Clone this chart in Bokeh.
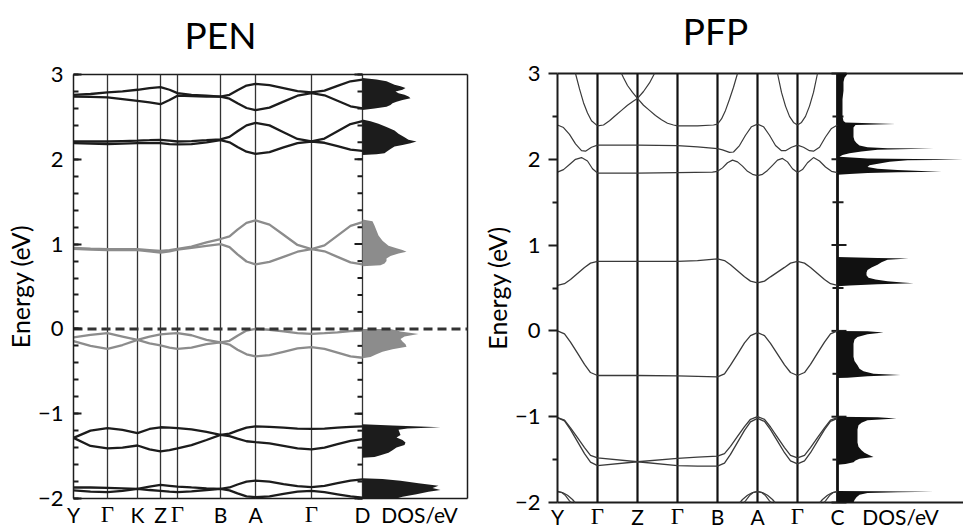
from bokeh.plotting import figure
from bokeh.models import Range1d, FixedTicker, LinearAxis, Label
from bokeh.layouts import row
from bokeh.embed import file_html
from bokeh.resources import INLINE

NaN = float("nan")

# ---------------- PEN : band structure along the k-path ----------------
pen_kpath = [0, 34, 64, 87, 104, 147, 182, 238, 289]
pen_klabels = ["Y", "Γ", "K", "Z", "Γ", "B", "A", "Γ", "D"]
pen_k = [0, 17, 34, 49, 64, 76, 87, 96, 104, 118, 133, 147, 156, 164, 173,
         182, 196, 210, 224, 238, 251, 264, 277, 289]

# conduction bands (black)
pen_t1 = [2.76, 2.77, 2.79, 2.80, 2.82, 2.84, 2.85, 2.82, 2.78, 2.76, 2.75, 2.74, 2.76, 2.815,
          2.87, 2.89, 2.875, 2.84, 2.805, 2.79, 2.81, 2.865, 2.92, 2.94]
pen_t2 = [2.74, 2.735, 2.73, 2.71, 2.69, 2.67, 2.65, 2.70, 2.75, 2.745, 2.74, 2.74, 2.715, 2.66,
          2.605, 2.58, 2.61, 2.68, 2.75, 2.78, 2.755, 2.69, 2.625, 2.60]
pen_s1 = [2.21, 2.21, 2.21, 2.215, 2.22, 2.225, 2.23, 2.22, 2.21, 2.215, 2.225, 2.235, 2.265, 2.33,
          2.40, 2.43, 2.40, 2.32, 2.24, 2.21, 2.245, 2.33, 2.415, 2.45]
pen_s2 = [2.19, 2.185, 2.18, 2.185, 2.19, 2.19, 2.19, 2.18, 2.175, 2.18, 2.20, 2.225, 2.20, 2.145,
          2.09, 2.065, 2.085, 2.14, 2.19, 2.21, 2.195, 2.155, 2.115, 2.10]
# LUMO bands (grey)
pen_g1 = [0.955, 0.945, 0.94, 0.94, 0.94, 0.93, 0.92, 0.93, 0.945, 0.97, 1.02, 1.06, 1.09, 1.17,
          1.25, 1.28, 1.23, 1.11, 0.99, 0.94, 0.985, 1.10, 1.215, 1.26]
pen_g2 = [0.945, 0.935, 0.93, 0.93, 0.93, 0.915, 0.90, 0.915, 0.935, 0.955, 0.98, 1.00, 0.965, 0.88,
          0.795, 0.76, 0.79, 0.85, 0.91, 0.94, 0.915, 0.85, 0.785, 0.76]
# HOMO bands (grey)
pen_v1 = [-0.10, -0.07, -0.05, -0.09, -0.13, -0.09, -0.065, -0.055, -0.05, -0.075, -0.13, -0.16,
          -0.14, -0.08, -0.02, 0.0, -0.01, -0.03, -0.05, -0.058, -0.05, -0.04, -0.025, -0.02]
pen_v2 = [-0.145, -0.20, -0.235, -0.19, -0.13, -0.17, -0.195, -0.22, -0.235, -0.22, -0.18, -0.16,
          -0.185, -0.245, -0.30, -0.325, -0.31, -0.27, -0.23, -0.215, -0.235, -0.28, -0.325, -0.34]
# deeper valence bands (black)
pen_w1 = [-1.285, -1.20, -1.17, -1.19, -1.23, -1.18, -1.16, -1.165, -1.17, -1.185, -1.215, -1.25,
          -1.235, -1.20, -1.165, -1.15, -1.155, -1.165, -1.175, -1.18, -1.175, -1.165, -1.155, -1.15]
pen_w2 = [-1.285, -1.38, -1.41, -1.40, -1.375, -1.42, -1.445, -1.43, -1.41, -1.37, -1.31, -1.25,
          -1.265, -1.295, -1.325, -1.335, -1.35, -1.38, -1.41, -1.42, -1.40, -1.36, -1.32, -1.30]
pen_x1 = [-1.87, -1.87, -1.875, -1.88, -1.886, -1.86, -1.84, -1.85, -1.86, -1.87, -1.88, -1.886,
          -1.87, -1.835, -1.80, -1.79, -1.80, -1.83, -1.855, -1.867, -1.85, -1.82, -1.79, -1.775]
pen_x2 = [-1.905, -1.92, -1.925, -1.91, -1.886, -1.90, -1.91, -1.92, -1.925, -1.915, -1.90, -1.886,
          -1.905, -1.94, -1.975, -1.985, -1.975, -1.945, -1.92, -1.91, -1.925, -1.95, -1.975, -1.99]

# PEN density of states (energy, DOS) blocks
pen_dos1_e = [2.96, 2.94, 2.92, 2.90, 2.88, 2.86, 2.84, 2.82, 2.80, 2.78, 2.76, 2.74, 2.72, 2.70,
              2.68, 2.66, 2.64, 2.62, 2.60, 2.58]
pen_dos1_w = [0, 14, 24, 28, 32, 38, 43, 40, 33, 36, 42, 46, 48, 40, 34, 30, 28, 24, 12, 0]
pen_dos2_e = [2.47, 2.45, 2.42, 2.38, 2.34, 2.30, 2.26, 2.23, 2.21, 2.19, 2.17, 2.15, 2.12, 2.09,
              2.07, 2.06, 2.05]
pen_dos2_w = [0, 8, 16, 24, 32, 36, 42, 46, 54, 48, 40, 32, 28, 24, 22, 14, 0]
pen_dos3_e = [1.29, 1.27, 1.22, 1.16, 1.10, 1.04, 0.98, 0.95, 0.93, 0.91, 0.89, 0.86, 0.83, 0.80,
              0.77, 0.75, 0.74]
pen_dos3_w = [0, 10, 12, 14, 16, 20, 26, 34, 40, 44, 36, 28, 24, 24, 22, 18, 0]
pen_dos4_e = [0.0, 0.0, -0.03, -0.06, -0.09, -0.12, -0.15, -0.18, -0.21, -0.24, -0.27, -0.30,
              -0.33, -0.345]
pen_dos4_w = [0, 28, 38, 56, 42, 38, 40, 43, 44, 30, 20, 14, 8, 0]
pen_dos5_e = [-1.125, -1.14, -1.16, -1.175, -1.19, -1.22, -1.25, -1.28, -1.31, -1.34, -1.37, -1.40,
              -1.43, -1.46, -1.49, -1.51, -1.52]
pen_dos5_w = [0, 30, 78, 45, 36, 37, 38, 34, 40, 43, 42, 34, 30, 26, 18, 12, 0]
pen_dos6_e = [-1.76, -1.77, -1.79, -1.82, -1.85, -1.875, -1.90, -1.92, -1.95, -1.98, -2.0]
pen_dos6_w = [0, 20, 38, 56, 76, 70, 78, 66, 54, 40, 34]

# ---------------- PFP : band structure along the k-path ----------------
pfp_kpath = [0, 40, 80, 120, 160, 200, 240, 280]
pfp_klabels = ["Y", "Γ", "Z", "Γ", "B", "A", "Γ", "C"]
pfp_k = [0, 7, 13, 20, 27, 33, 40, 80, 120, 140, 160, 167, 173, 180, 187, 193, 200,
         207, 213, 220, 227, 233, 240, 247, 253, 260, 267, 273, 280]
pfp_r = [0.53, 0.55, 0.60, 0.67, 0.74, 0.79, 0.81, 0.81, 0.81, 0.82, 0.84, 0.82, 0.77, 0.70, 0.63,
         0.58, 0.56, 0.58, 0.63, 0.685, 0.74, 0.79, 0.81, 0.79, 0.74, 0.67, 0.60, 0.55, 0.53]
pfp_v = [0.0, -0.035, -0.13, -0.26, -0.39, -0.485, -0.52, -0.52, -0.525, -0.53, -0.535, -0.50,
         -0.40, -0.27, -0.14, -0.055, -0.02, -0.055, -0.145, -0.27, -0.395, -0.485, -0.52, -0.485,
         -0.39, -0.26, -0.13, -0.035, 0.0]
pfp_wa = [-1.01, -1.04, -1.13, -1.245, -1.36, -1.45, -1.48, -1.525, -1.57, -1.575, -1.575, -1.54,
          -1.44, -1.30, -1.16, -1.06, -1.02, -1.055, -1.15, -1.285, -1.42, -1.515, -1.55, -1.515,
          -1.42, -1.285, -1.15, -1.055, -1.02]
pfp_wb = [-1.01, -1.05, -1.15, -1.29, -1.43, -1.53, -1.57, -1.525, -1.485, -1.47, -1.46, -1.43,
          -1.345, -1.23, -1.115, -1.03, -1.0, -1.03, -1.12, -1.24, -1.36, -1.45, -1.48, -1.45,
          -1.36, -1.245, -1.13, -1.04, -1.01]
pfp_q1_k = [0, 6, 12, 18, 24, 28, 34, 40, 80, 120, 140, 160, 165, 172, 176, 182, 188, 194, 200,
            206, 212, 218, 224, 228, 234, 240, 246, 252, 256, 262, 268, 274, 280]
pfp_q1 = [2.40, 2.37, 2.29, 2.18, 2.10, 2.095, 2.14, 2.165, 2.165, 2.16, 2.145, 2.125, 2.11, 2.08,
          2.085, 2.16, 2.28, 2.38, 2.41, 2.38, 2.28, 2.16, 2.10, 2.10, 2.14, 2.165, 2.14, 2.10,
          2.095, 2.14, 2.26, 2.36, 2.40]
pfp_q2_k = [0, 6, 12, 18, 24, 30, 35, 40, 80, 120, 155, 160, 165, 170, 175, 180, 185, 190, 195,
            200, 205, 210, 215, 220, 225, 230, 235, 240, 245, 250, 256, 262, 268, 274, 280]
pfp_q2 = [1.85, 1.88, 1.94, 2.0, 2.02, 1.98, 1.89, 1.84, 1.84, 1.845, 1.85, 1.86, 1.90, 1.96, 1.99,
          1.97, 1.92, 1.86, 1.825, 1.81, 1.825, 1.87, 1.93, 1.99, 2.01, 1.97, 1.89, 1.845, 1.88,
          1.96, 2.02, 1.98, 1.91, 1.86, 1.845]
# upper bands, listed where they lie inside the 3 eV window
pfp_p1_k = [18, 22, 26, 30, 34, 40, 46, 52, 58, 64, 70, 76, 80, 86, 92, 97]
pfp_p1 = [3.0, 2.82, 2.66, 2.54, 2.45, 2.39, 2.40, 2.45, 2.51, 2.57, 2.63, 2.68, 2.71, 2.79,
          2.89, 3.0]
pfp_p2_k = [64, 66, 70, 75, 80, 86, 92, 98, 104, 110, 116, 120, 140, 156, 160, 164, 168, 172,
            176, 180]
pfp_p2 = [3.0, 2.95, 2.86, 2.78, 2.71, 2.63, 2.57, 2.51, 2.46, 2.42, 2.40, 2.39, 2.39, 2.40,
          2.41, 2.47, 2.57, 2.70, 2.84, 3.0]
pfp_p3_k = [220, 224, 228, 232, 236, 240, 244, 248, 252, 256, 260]
pfp_p3 = [3.0, 2.78, 2.62, 2.50, 2.43, 2.40, 2.43, 2.50, 2.62, 2.78, 3.0]
# band tops just above -2 eV at Y, A and C
pfp_m1_k = [0, 4, 8, 12, 13.5, NaN, 186.5, 188, 192, 196, 200, 204, 208, 212, 213.5, NaN,
            266.5, 268, 272, 276, 280]
pfp_m1 = [-1.87, -1.882, -1.92, -1.98, -2.0, NaN, -2.0, -1.98, -1.92, -1.882, -1.87, -1.882,
          -1.92, -1.98, -2.0, NaN, -2.0, -1.98, -1.92, -1.882, -1.87]
pfp_m2_k = [0, 5, 10, 15, 17.5, NaN, 182.5, 185, 190, 195, 200, 205, 210, 215, 217.5, NaN,
            262.5, 265, 270, 275, 280]
pfp_m2 = [-1.875, -1.885, -1.915, -1.965, -2.0, NaN, -2.0, -1.965, -1.915, -1.885, -1.875,
          -1.885, -1.915, -1.965, -2.0, NaN, -2.0, -1.965, -1.915, -1.885, -1.875]

# PFP density of states blocks
pfp_dos1_e = [3.0, 2.98, 2.95, 2.90, 2.80, 2.70, 2.60, 2.50, 2.445, 2.43, 2.41, 2.40, 2.37, 2.34,
              2.30, 2.26, 2.22, 2.19, 2.16, 2.14, 2.13, 2.125, 2.11, 2.09, 2.07, 2.05, 2.03, 2.01,
              2.0, 1.995, 1.99, 1.97, 1.95, 1.93, 1.91, 1.89, 1.875, 1.86, 1.855, 1.85, 1.84,
              1.83, 1.82]
pfp_dos1_w = [10, 9, 7, 6, 6, 5, 5, 5, 6, 8, 58, 18, 16, 16, 16, 16, 17, 19, 22, 30, 50, 96, 40,
              24, 12, 5, 2, 30, 100, 126, 70, 52, 42, 32, 30, 40, 60, 90, 104, 60, 30, 12, 0]
pfp_dos2_e = [0.86, 0.85, 0.845, 0.83, 0.80, 0.77, 0.74, 0.71, 0.68, 0.65, 0.62, 0.60, 0.58, 0.565,
              0.555, 0.545, 0.53, 0.52]
pfp_dos2_w = [0, 40, 71, 50, 44, 40, 34, 30, 29, 29, 31, 38, 50, 65, 76, 40, 12, 0]
pfp_dos3_e = [0.0, -0.005, -0.02, -0.04, -0.07, -0.10, -0.15, -0.20, -0.25, -0.30, -0.35, -0.40,
              -0.44, -0.47, -0.50, -0.515, -0.53, -0.545, -0.55]
pfp_dos3_w = [0, 30, 46, 30, 20, 17, 16, 16, 16, 16, 17, 20, 22, 26, 36, 63, 30, 10, 0]
pfp_dos4_e = [-1.0, -1.005, -1.02, -1.04, -1.07, -1.10, -1.15, -1.20, -1.25, -1.30, -1.35, -1.39,
              -1.42, -1.45, -1.47, -1.49, -1.51, -1.53, -1.55, -1.56]
pfp_dos4_w = [0, 40, 59, 30, 24, 21, 20, 20, 20, 20, 21, 24, 27, 32, 36, 22, 18, 16, 8, 0]
pfp_dos5_e = [-1.865, -1.87, -1.875, -1.88, -1.89, -1.91, -1.94, -1.97, -2.0]
pfp_dos5_w = [0, 40, 96, 60, 30, 22, 19, 17, 16]

energy_ticks = [-2, -1, 0, 1, 2, 3]
E_MIN, E_MAX = -2, 3

SANS = "Lato"
SERIF = "Liberation Serif"
INK = "#1c1c1c"
GREY = "#8c8c8c"


def new_panel(width, k_lo, k_hi, e_lo, e_hi, k_zero):
    p = figure(width=width, height=529, x_range=Range1d(k_lo, k_hi), y_range=Range1d(e_lo, e_hi),
               x_axis_type=None, toolbar_location=None, output_backend="svg", min_border=0)
    p.extra_x_ranges = {"dos": Range1d(k_lo - k_zero, k_hi - k_zero)}
    p.xgrid.visible = False
    p.ygrid.visible = False
    p.outline_line_color = None
    p.background_fill_color = "white"
    p.border_fill_color = "white"
    return p


def energy_axis(p, minor, standoff, label_standoff):
    ax = p.yaxis[0]
    ax.fixed_location = 0
    ax.bounds = (E_MIN, E_MAX)
    ax.ticker = FixedTicker(ticks=energy_ticks, minor_ticks=minor)
    ax.axis_label = "Energy (eV)"
    ax.axis_label_text_font = SANS
    ax.axis_label_text_font_size = "25px"
    ax.axis_label_text_font_style = "normal"
    ax.axis_label_text_color = "black"
    ax.axis_label_standoff = label_standoff
    ax.major_label_text_font = SANS
    ax.major_label_text_font_size = "22px"
    ax.major_label_text_color = "black"
    ax.major_label_standoff = standoff
    ax.axis_line_color = INK
    ax.major_tick_line_color = INK
    ax.minor_tick_line_color = INK
    ax.major_tick_line_width = 2
    ax.minor_tick_line_width = 2
    return ax


def k_axes(p, kpath, labels, dos_at, standoff):
    # high-symmetry point names along the bottom edge; Γ is set in a serif face
    sans = {k: lab for k, lab in zip(kpath, labels) if lab != "Γ"}
    sans[dos_at] = "DOS/eV"
    serif = {k: lab for k, lab in zip(kpath, labels) if lab == "Γ"}
    for names, font, size in ((sans, SANS, "21px"), (serif, SERIF, "23px")):
        ax = LinearAxis(fixed_location=E_MIN, ticker=FixedTicker(ticks=list(names)),
                        major_label_overrides=names, axis_line_color=None,
                        major_tick_line_color=None, minor_tick_line_color=None,
                        major_label_standoff=standoff, major_label_text_font=font,
                        major_label_text_font_size=size, major_label_text_color="black")
        p.add_layout(ax, "below")


def heading(p, text, k, e):
    p.add_layout(Label(x=k, y=e, text=text, text_align="center", text_baseline="middle",
                       text_font=SANS, text_font_size="37px", text_color="black"))


# ======================= PEN panel =======================
pen_box = 394          # right edge of the DOS strip, in k units
p1 = new_panel(470, -73, 397, E_MIN - 31 / 84.8, E_MAX + 74 / 84.8, pen_kpath[-1])
pen_minor = [round(-2 + 0.2 * i, 1) for i in range(26)]
ax1 = energy_axis(p1, pen_minor, 10, 0)
ax1.major_tick_in = 8
ax1.major_tick_out = 0
ax1.minor_tick_in = 5
ax1.minor_tick_out = 0
ax1.axis_line_width = 1.5

# frame box and high-symmetry lines
p1.segment(x0=[0, pen_box, 0], y0=[E_MAX, E_MAX, E_MIN], x1=[pen_box, pen_box, pen_box],
           y1=[E_MAX, E_MIN, E_MIN], line_color=INK, line_width=1.5)
p1.segment(x0=pen_kpath[1:], y0=E_MIN, x1=pen_kpath[1:], y1=E_MAX, line_color="#333333",
           line_width=1.3)

# inward ticks on the band / DOS divider
kd = pen_kpath[-1]
p1.segment(x0=[kd - 8] * len(energy_ticks), y0=energy_ticks, x1=[kd] * len(energy_ticks),
           y1=energy_ticks, line_color=INK, line_width=2)
p1.segment(x0=[kd - 5] * len(pen_minor), y0=pen_minor, x1=[kd] * len(pen_minor),
           y1=pen_minor, line_color=INK, line_width=2)

for band in (pen_t1, pen_t2, pen_s1, pen_s2, pen_w1, pen_w2, pen_x1, pen_x2):
    p1.line(pen_k, band, line_color=INK, line_width=2.3)
for band in (pen_g1, pen_g2, pen_v1, pen_v2):
    p1.line(pen_k, band, line_color=GREY, line_width=2.3)

for e, w, c in ((pen_dos1_e, pen_dos1_w, INK), (pen_dos2_e, pen_dos2_w, INK),
                (pen_dos3_e, pen_dos3_w, GREY), (pen_dos4_e, pen_dos4_w, GREY),
                (pen_dos5_e, pen_dos5_w, INK), (pen_dos6_e, pen_dos6_w, INK)):
    p1.harea(y=e, x1=0, x2=w, fill_color=c, x_range_name="dos")

# Fermi level
p1.segment(x0=[0], y0=[0], x1=[pen_box], y1=[0], line_color="#333333", line_width=3,
           line_dash="9 5")

k_axes(p1, pen_kpath, pen_klabels, 346, -3)
heading(p1, "PEN", 147, 3.472)

# ======================= PFP panel =======================
pfp_box = 406
p2 = new_panel(493, -87, 406, E_MIN - 27 / 85.8, E_MAX + 73 / 85.8, pfp_kpath[-1])
pfp_minor = [-1.5, -0.5, 0.5, 1.5, 2.5]
ax2 = energy_axis(p2, pfp_minor, 8, 0)
ax2.major_tick_in = 0
ax2.major_tick_out = 9
ax2.minor_tick_in = 0
ax2.minor_tick_out = 5
ax2.axis_line_width = 2

p2.segment(x0=[0, 0], y0=[E_MAX, E_MIN], x1=[pfp_box, pfp_box], y1=[E_MAX, E_MIN],
           line_color=INK, line_width=2)
p2.segment(x0=pfp_kpath[1:-1], y0=E_MIN, x1=pfp_kpath[1:-1], y1=E_MAX, line_color="#111111",
           line_width=2.2)
p2.segment(x0=pfp_kpath[-1:], y0=E_MIN, x1=pfp_kpath[-1:], y1=E_MAX, line_color="#111111",
           line_width=2.8)

kc = pfp_kpath[-1]
p2.segment(x0=[kc - 6] * len(energy_ticks), y0=energy_ticks, x1=[kc + 9] * len(energy_ticks),
           y1=energy_ticks, line_color=INK, line_width=2)
p2.segment(x0=[kc - 5] * len(pfp_minor), y0=pfp_minor, x1=[kc + 6] * len(pfp_minor),
           y1=pfp_minor, line_color=INK, line_width=2)

BAND2 = "#3a3a3a"
for band in (pfp_r, pfp_v, pfp_wa, pfp_wb):
    p2.line(pfp_k, band, line_color=BAND2, line_width=1.3)
for kk, band in ((pfp_q1_k, pfp_q1), (pfp_q2_k, pfp_q2), (pfp_p1_k, pfp_p1),
                 (pfp_p2_k, pfp_p2), (pfp_p3_k, pfp_p3), (pfp_m1_k, pfp_m1),
                 (pfp_m2_k, pfp_m2)):
    p2.line(kk, band, line_color=BAND2, line_width=1.2)

for e, w in ((pfp_dos1_e, pfp_dos1_w), (pfp_dos2_e, pfp_dos2_w), (pfp_dos3_e, pfp_dos3_w),
             (pfp_dos4_e, pfp_dos4_w), (pfp_dos5_e, pfp_dos5_w)):
    p2.harea(y=e, x1=0, x2=w, fill_color="#111111", x_range_name="dos")

k_axes(p2, pfp_kpath, pfp_klabels, 343, -5)
heading(p2, "PFP", 158, 3.501)

layout = row(p1, p2, spacing=0)
open("out.html", "w").write(file_html(layout, INLINE))
